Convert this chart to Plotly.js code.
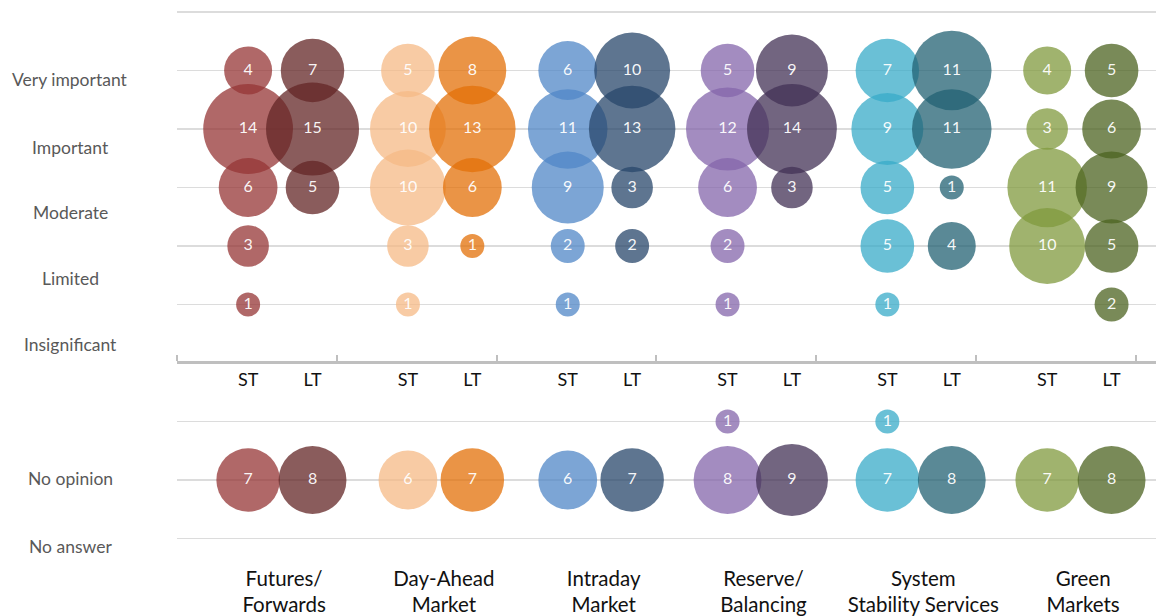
<!DOCTYPE html>
<html>
<head>
<meta charset="utf-8">
<script src="https://cdn.plot.ly/plotly-3.0.1.min.js"></script>
<style>html,body{margin:0;padding:0;background:#fff;}#chart{width:1156px;height:616px;}</style>
</head>
<body>
<div id="chart"></div>
<script>
// ---- data ----
const markets = ["Futures/<br>Forwards", "Day-Ahead<br>Market", "Intraday<br>Market",
                 "Reserve/<br>Balancing", "System<br>Stability Services", "Green<br>Markets"];
const horizons = ["ST", "LT"];
const rowNames = ["Very important", "Important", "Moderate", "Limited", "Insignificant", "No answer", "No opinion"];
const yLabels = ["Very important", "Important", "Moderate", "Limited", "Insignificant", "No opinion", "No answer"];

const futuresST   = [4, 14, 6, 3, 1, null, 7];
const futuresLT   = [7, 15, 5, null, null, null, 8];
const dayAheadST  = [5, 10, 10, 3, 1, null, 6];
const dayAheadLT  = [8, 13, 6, 1, null, null, 7];
const intradayST  = [6, 11, 9, 2, 1, null, 6];
const intradayLT  = [10, 13, 3, 2, null, null, 7];
const reserveST   = [5, 12, 6, 2, 1, 1, 8];
const reserveLT   = [9, 14, 3, null, null, null, 9];
const systemST    = [7, 9, 5, 5, 1, 1, 7];
const systemLT    = [11, 11, 1, 4, null, null, 8];
const greenST     = [4, 3, 11, 10, null, null, 7];
const greenLT     = [5, 6, 9, 5, 2, null, 8];

const seriesST = [futuresST, dayAheadST, intradayST, reserveST, systemST, greenST];
const seriesLT = [futuresLT, dayAheadLT, intradayLT, reserveLT, systemLT, greenLT];

// ---- styling / layout ----
const rowLevel = [5, 4, 3, 2, 1, -1, -2];          // grid row of each answer
const offST = 0.445, offLT = 0.848, offLabel = 0.67;
const colST = ["rgba(149,53,53,0.75)", "rgba(245,185,133,0.75)", "rgba(80,135,199,0.75)",
               "rgba(132,101,171,0.75)", "rgba(56,171,200,0.75)", "rgba(128,153,61,0.75)"];
const colLT = ["rgba(99,37,37,0.75)", "rgba(227,112,8,0.75)", "rgba(40,71,107,0.75)",
               "rgba(67,49,85,0.75)", "rgba(35,98,115,0.75)", "rgba(76,99,32,0.75)"];
const FONT = "Lato, 'Open Sans', sans-serif";

function points(vals, xpos) {
  const x = [], y = [], s = [], t = [];
  vals.forEach((v, k) => {
    if (v === null) return;
    x.push(xpos); y.push(rowLevel[k]); s.push(v); t.push(String(v));
  });
  return {x, y, s, t};
}

const markerTraces = [], textTraces = [];
markets.forEach((m, i) => {
  [[seriesST[i], i + offST, colST[i], "ST"], [seriesLT[i], i + offLT, colLT[i], "LT"]].forEach(([vals, xp, col, h]) => {
    const p = points(vals, xp);
    markerTraces.push({
      type: "scatter", mode: "markers", name: m + " " + h,
      x: p.x, y: p.y,
      marker: {size: p.s, sizemode: "area", sizeref: 1 / 288, color: col, opacity: 1, line: {width: 0}},
      hoverinfo: "skip", showlegend: false, cliponaxis: false
    });
    textTraces.push({
      type: "scatter", mode: "text", name: m + " " + h + " labels",
      x: p.x, y: p.y, xaxis: "x2", text: p.t, textposition: "middle center",
      textfont: {family: FONT, size: 16, color: "rgba(255,255,255,0.95)"},
      hoverinfo: "skip", showlegend: false, cliponaxis: false
    });
  });
});

const PX = 58.5, ZERO = 363, H = 560;
const yr = [(ZERO - H) / PX, ZERO / PX];

const hzVals = [], hzText = [];
markets.forEach((m, i) => {
  hzVals.push(i + offST, i + offLT); hzText.push(horizons[0], horizons[1]);
});

const labelY = [4.84, 3.69, 2.58, 1.44, 0.31, -1.98, -3.13];
const annotations = yLabels.map((lab, k) => ({
  text: lab, xref: "paper", yref: "y", x: (70 - 177) / 979, y: labelY[k],
  xanchor: "center", yanchor: "middle", showarrow: false,
  font: {family: FONT, size: 17.5, color: "#595959"}
}));

const layout = {
  width: 1156, height: 616,
  margin: {l: 177, r: 0, t: 0, b: 616 - H},
  paper_bgcolor: "#fff", plot_bgcolor: "#fff",
  showlegend: false,
  xaxis: {
    range: [0, 6.126], showgrid: false, zeroline: false, showline: false,
    tickmode: "array", tickvals: markets.map((m, i) => i + offLabel), ticktext: markets,
    ticks: "", ticklabelstandoff: 4, tickfont: {family: FONT, size: 20.5, color: "#111"}, fixedrange: true
  },
  xaxis2: {
    overlaying: "x", anchor: "free", position: (H - 362) / H, side: "bottom",
    range: [0, 6.126], showgrid: false, zeroline: false,
    showline: true, linecolor: "#bfbfbf", linewidth: 3,
    tickmode: "array", tickvals: hzVals, ticktext: hzText, ticks: "",
    tickfont: {family: FONT, size: 18, color: "#111"},
    minor: {ticks: "inside", tick0: 0, dtick: 1, ticklen: 6, tickwidth: 2, tickcolor: "#bfbfbf", showgrid: false}
  },
  yaxis: {
    range: yr, tickmode: "array", tickvals: [6, 5, 4, 3, 2, 1, -1, -2, -3],
    showticklabels: false, ticks: "", showgrid: true, gridcolor: "#dcdcdc", gridwidth: 1.5,
    zeroline: false, showline: false, fixedrange: true
  },
  annotations: annotations,
  font: {family: FONT}
};

Plotly.newPlot("chart", markerTraces.concat(textTraces), layout, {displayModeBar: false, staticPlot: true});
</script>
</body>
</html>
